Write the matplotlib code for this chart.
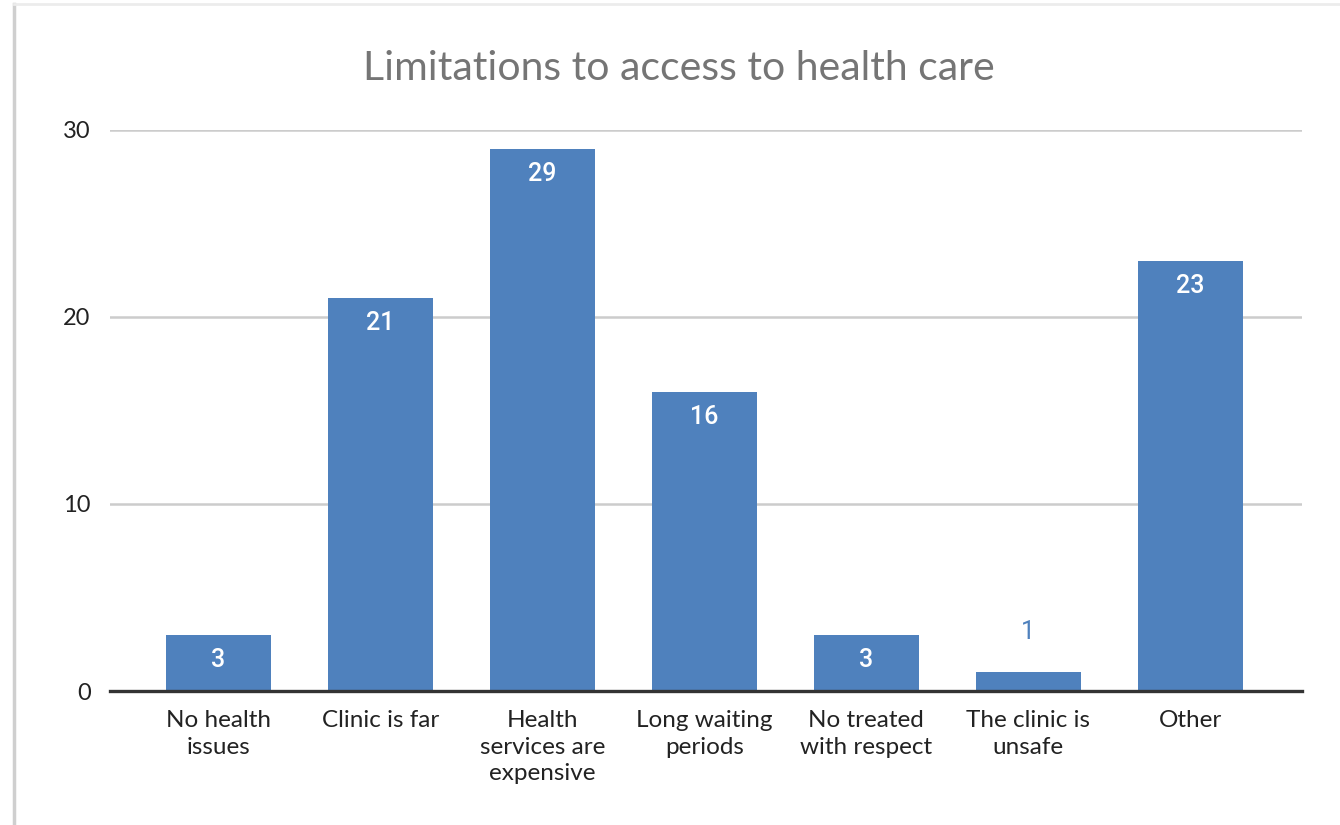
import matplotlib
matplotlib.use("Agg")
import matplotlib.pyplot as plt
from matplotlib.lines import Line2D

# data
categories = ["No health\nissues", "Clinic is far", "Health\nservices are\nexpensive",
              "Long waiting\nperiods", "No treated\nwith respect", "The clinic is\nunsafe", "Other"]
values = [3, 21, 29, 16, 3, 1, 23]
yticks = [0, 10, 20, 30]

bar_color = "#4f81bd"

fig = plt.figure(figsize=(13.4, 8.25), dpi=100)
ax = fig.add_axes([110 / 1340, 1 - 691 / 825, (1302 - 110) / 1340, (691 - 130) / 825])

x = list(range(len(categories)))
bars = ax.bar(x, values, width=0.65, color=bar_color, zorder=3)

# data labels: inside near top, above if the bar is too short
for xi, v in zip(x, values):
    if v >= 2:
        ax.annotate(str(v), (xi, v), xytext=(0, -18), textcoords="offset points",
                    ha="center", va="center", color="white", fontsize=18, family="Roboto",
                    fontweight="medium")
    else:
        ax.annotate(str(v), (xi, v), xytext=(0, 29), textcoords="offset points",
                    ha="center", va="center", color=bar_color, fontsize=18, family="Roboto")

ax.set_xlim(-0.67, 6.69)
ax.set_ylim(0, 30)
ax.set_yticks(yticks)
ax.set_xticks(x)
ax.set_xticklabels(categories, fontsize=17.5, family="Lato", color="#222222", linespacing=1.32)
ax.tick_params(axis="y", length=0, pad=14, labelsize=17, labelcolor="#222222")
ax.tick_params(axis="x", length=0, pad=14)
for lab in ax.get_yticklabels():
    lab.set_family("Lato")

ax.grid(axis="y", color="#cccccc", linewidth=1.8, zorder=0)
for s in ["top", "right", "left"]:
    ax.spines[s].set_visible(False)
ax.spines["bottom"].set_color("#333333")
ax.spines["bottom"].set_linewidth(2.4)
ax.spines["bottom"].set_zorder(4)

fig.text(679 / 1340, 1 - 69 / 825, "Limitations to access to health care",
         ha="center", va="center", fontsize=29.5, family="Lato", color="#757575")

# chart frame (left and top edge)
fig.add_artist(Line2D([14 / 1340, 14 / 1340], [0, 1 - 4 / 825], transform=fig.transFigure,
                      color="#cfcfcf", linewidth=2.5))
fig.add_artist(Line2D([14 / 1340, 1], [1 - 4 / 825, 1 - 4 / 825], transform=fig.transFigure,
                      color="#ececec", linewidth=2))

fig.savefig("out.png", dpi=100, facecolor="white")
